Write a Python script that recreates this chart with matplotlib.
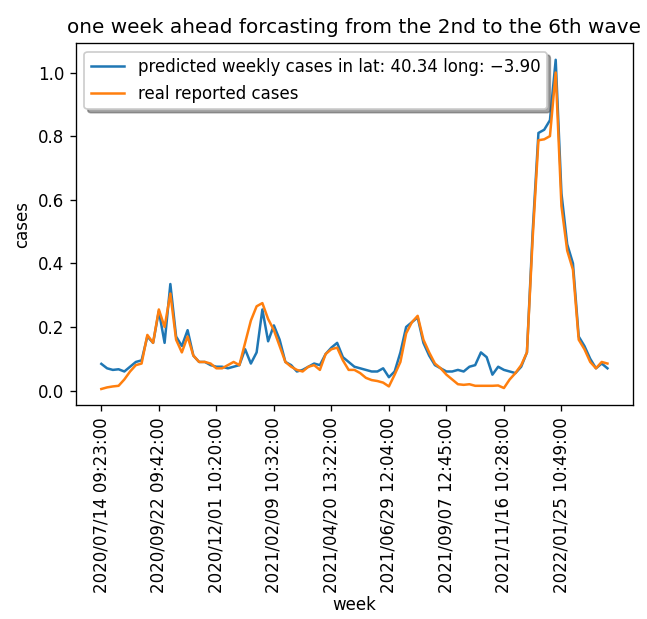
import numpy as np
import matplotlib
matplotlib.use('Agg')
import matplotlib.pyplot as plt

# weekly values (normalised cases)
predicted = [0.084, 0.070, 0.065, 0.067, 0.060, 0.075, 0.090, 0.095, 0.170, 0.150,
             0.250, 0.150, 0.335, 0.170, 0.140, 0.190, 0.110, 0.090, 0.090, 0.080,
             0.075, 0.075, 0.070, 0.075, 0.080, 0.130, 0.085, 0.120, 0.255, 0.155,
             0.205, 0.160, 0.090, 0.080, 0.060, 0.065, 0.075, 0.085, 0.080, 0.115,
             0.135, 0.150, 0.105, 0.090, 0.075, 0.070, 0.065, 0.060, 0.060, 0.070,
             0.042, 0.060, 0.120, 0.200, 0.215, 0.230, 0.150, 0.110, 0.080, 0.070,
             0.060, 0.060, 0.065, 0.060, 0.075, 0.080, 0.120, 0.105, 0.050, 0.075,
             0.065, 0.060, 0.055, 0.075, 0.120, 0.500, 0.810, 0.820, 0.850, 1.040,
             0.620, 0.460, 0.400, 0.170, 0.140, 0.100, 0.070, 0.085, 0.070]

real = [0.005, 0.010, 0.013, 0.015, 0.035, 0.060, 0.080, 0.085, 0.175, 0.150,
        0.255, 0.200, 0.305, 0.160, 0.120, 0.170, 0.110, 0.090, 0.090, 0.085,
        0.070, 0.070, 0.080, 0.090, 0.080, 0.150, 0.220, 0.265, 0.275, 0.225,
        0.190, 0.140, 0.090, 0.075, 0.065, 0.060, 0.075, 0.080, 0.065, 0.115,
        0.130, 0.135, 0.095, 0.065, 0.065, 0.055, 0.040, 0.033, 0.030, 0.025,
        0.013, 0.050, 0.090, 0.180, 0.215, 0.235, 0.160, 0.120, 0.085, 0.070,
        0.050, 0.035, 0.020, 0.018, 0.020, 0.015, 0.015, 0.015, 0.015, 0.016,
        0.008, 0.035, 0.055, 0.080, 0.120, 0.480, 0.787, 0.790, 0.800, 1.000,
        0.580, 0.440, 0.380, 0.160, 0.130, 0.090, 0.070, 0.090, 0.085]

tick_labels = ['2020/07/14 09:23:00', '2020/09/22 09:42:00', '2020/12/01 10:20:00',
               '2021/02/09 10:32:00', '2021/04/20 13:22:00', '2021/06/29 12:04:00',
               '2021/09/07 12:45:00', '2021/11/16 10:28:00', '2022/01/25 10:49:00']

weeks = np.arange(len(predicted))

fig = plt.figure(figsize=(647 / 120, 619 / 120), dpi=120)
plt.subplots_adjust(left=0.1175, right=0.978, top=0.93, bottom=0.345)

plt.plot(weeks, predicted, label='predicted weekly cases in lat: 40.34 long: \u22123.90')
plt.plot(weeks, real, label='real reported cases')
plt.xticks(np.arange(0, 10 * len(tick_labels), 10), tick_labels, rotation=90)
plt.title('one week ahead forcasting from the 2nd to the 6th wave')
plt.xlabel('week', labelpad=2)
plt.ylabel('cases')
plt.legend(loc='upper left', shadow=True)

plt.savefig('out.png')
